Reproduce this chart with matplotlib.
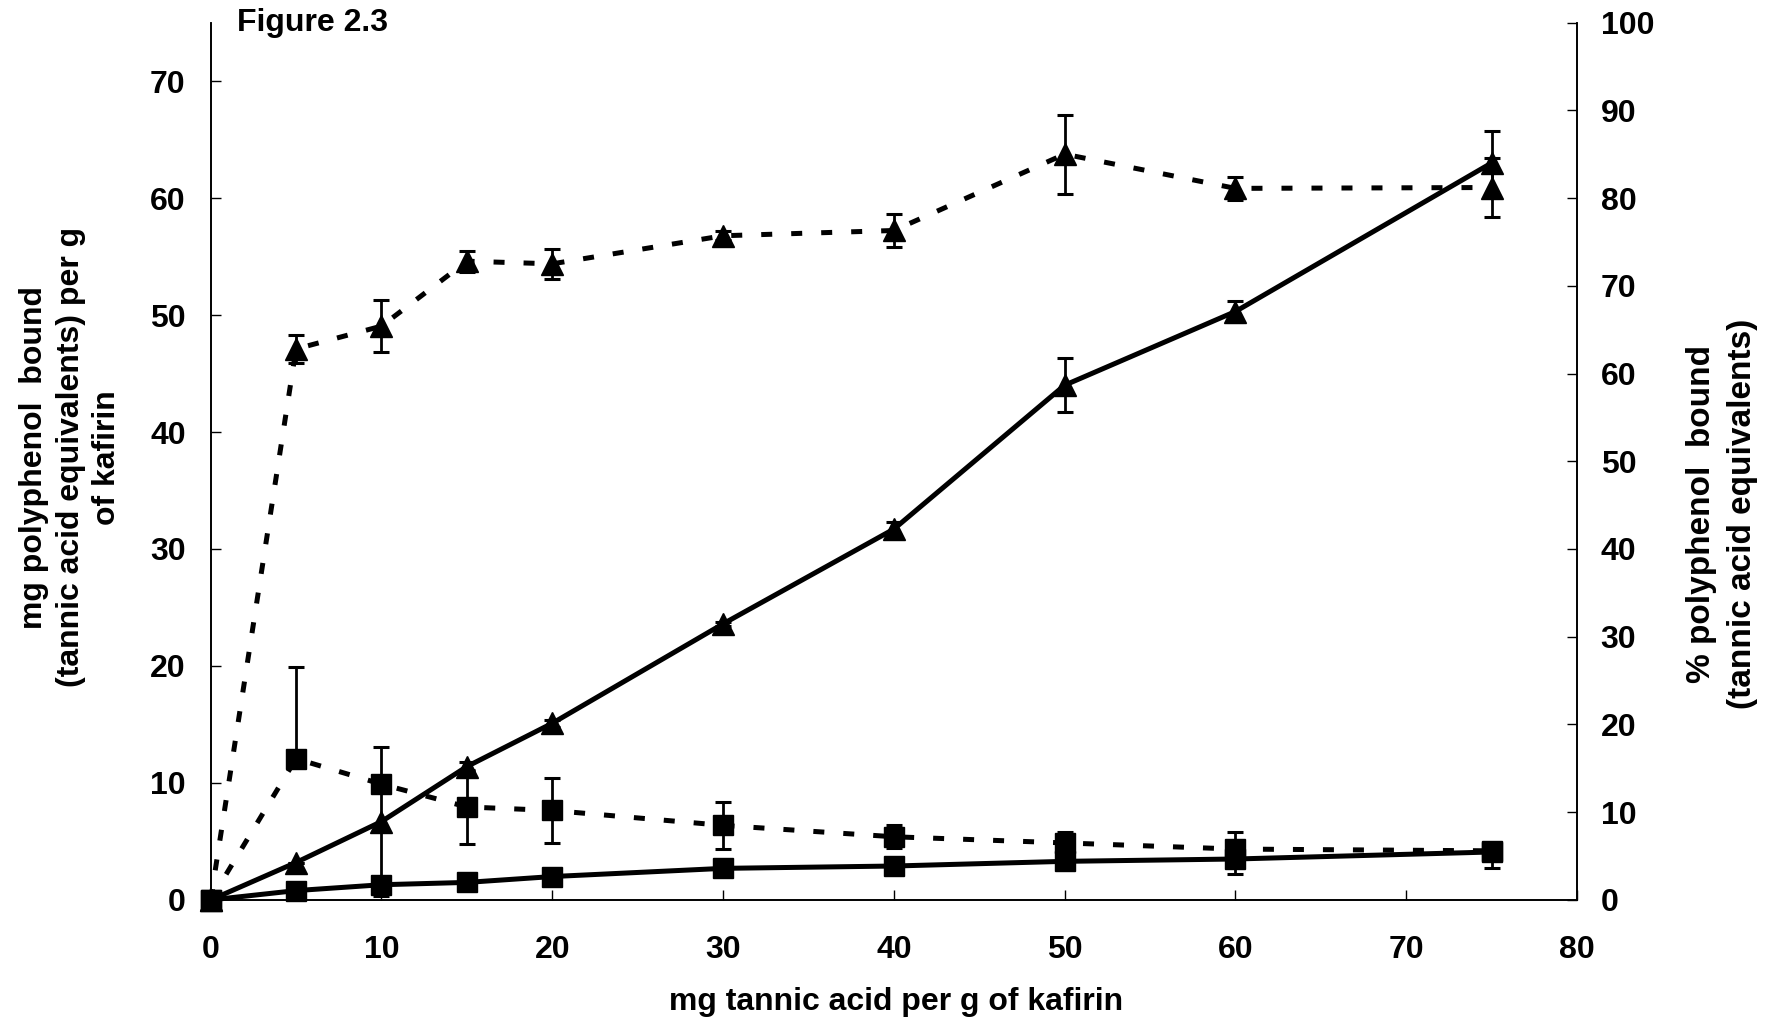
import matplotlib
matplotlib.use("Agg")
import matplotlib.pyplot as plt

# ---- data ----
tannic = [0, 5, 10, 15, 20, 30, 40, 50, 60, 75]

mg_tri = [0, 3.2, 6.7, 11.4, 15.1, 23.6, 31.7, 44.0, 50.3, 63.0]
mg_tri_err = [0, 0, 6.4, 0.4, 0.3, 0.2, 0.6, 2.3, 0.9, 2.7]

mg_sq = [0, 0.8, 1.3, 1.5, 2.0, 2.7, 2.9, 3.3, 3.5, 4.1]
mg_sq_err_lo = [0, 0, 0, 0, 0, 0, 0.3, 0.3, 1.3, 1.4]
mg_sq_err_hi = [0, 0, 0, 0, 0, 0, 0.3, 0.3, 0.3, 0]

pct_tri = [0, 62.8, 65.4, 72.8, 72.5, 75.7, 76.3, 85.0, 81.1, 81.2]
pct_tri_err = [0, 1.6, 3.0, 1.2, 1.7, 0.5, 1.9, 4.5, 1.3, 3.4]

pct_sq = [0, 16.1, 13.2, 10.6, 10.2, 8.5, 7.2, 6.5, 5.8, 5.6]
pct_sq_err_lo = [0, 0, 0, 4.2, 3.7, 2.7, 1.3, 0, 0, 0]
pct_sq_err_hi = [0, 10.4, 0, 4.2, 3.7, 2.7, 1.3, 1.2, 1.9, 0]

x_ticks = [0, 10, 20, 30, 40, 50, 60, 70, 80]
left_ticks = [0, 10, 20, 30, 40, 50, 60, 70]
right_ticks = [0, 10, 20, 30, 40, 50, 60, 70, 80, 90, 100]

plt.rcParams['font.family'] = ['Liberation Sans', 'DejaVu Sans']
plt.rcParams['font.weight'] = 'bold'
FS = 23

fig = plt.figure(figsize=(17.7, 10.25), dpi=100)
ax = fig.add_axes([0.119, 0.122, 0.772, 0.856])
ax2 = ax.twinx()

lw = 3.6
ebkw = dict(elinewidth=2.0, capsize=6, capthick=2.2, ecolor='black')
DASH = (2.2, 3.8)

ax.errorbar(tannic, mg_tri, yerr=mg_tri_err, color='black', lw=lw,
            marker='^', ms=16, clip_on=False, zorder=3, **ebkw)
ax.errorbar(tannic, mg_sq, yerr=[mg_sq_err_lo, mg_sq_err_hi], color='black', lw=lw,
            marker='s', ms=15, clip_on=False, zorder=3, **ebkw)

l1 = ax2.errorbar(tannic, pct_tri, yerr=pct_tri_err, color='black', lw=lw,
                  marker='^', ms=16, clip_on=False, zorder=3, **ebkw)
l1[0].set_dashes(DASH)
l2 = ax2.errorbar(tannic, pct_sq, yerr=[pct_sq_err_lo, pct_sq_err_hi], color='black', lw=lw,
                  marker='s', ms=15, clip_on=False, zorder=3, **ebkw)
l2[0].set_dashes(DASH)

ax.set_xlim(0, 80)
ax.set_ylim(0, 75)
ax2.set_ylim(0, 100)
ax.set_xticks(x_ticks)
ax.set_yticks(left_ticks)
ax2.set_yticks(right_ticks)

for a in (ax, ax2):
    a.spines['top'].set_visible(False)
    for s in a.spines.values():
        s.set_linewidth(1.2)

ax.tick_params(axis='y', direction='in', length=7, width=1, pad=18, labelsize=FS)
ax.tick_params(axis='x', direction='in', length=7, width=1, pad=25, labelsize=FS)
ax2.tick_params(axis='y', direction='in', length=7, width=1, pad=17, labelsize=FS)
for lab in ax.get_xticklabels() + ax.get_yticklabels() + ax2.get_yticklabels():
    lab.set_fontweight('bold')

fig.text(0.506, 0.022, 'mg tannic acid per g of kafirin', ha='center', va='center',
         fontsize=FS, fontweight='bold')
fig.text(0.040, 0.554, 'mg polyphenol  bound\n(tannic acid equivalents) per g\nof kafirin',
         rotation=90, ha='center', va='center', multialignment='center',
         fontsize=FS, fontweight='bold', linespacing=1.28)
fig.text(0.973, 0.499, '% polyphenol  bound\n(tannic acid equivalents)',
         rotation=90, ha='center', va='center', multialignment='center',
         fontsize=24, fontweight='bold', linespacing=1.42)
fig.text(0.134, 0.978, 'Figure 2.3', ha='left', va='center', fontsize=FS, fontweight='bold')

fig.savefig('out.png', dpi=100)
